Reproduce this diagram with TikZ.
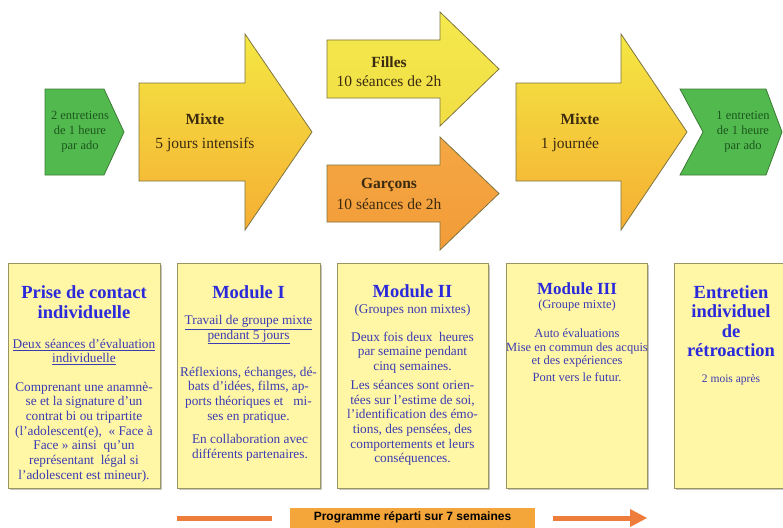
\documentclass[tikz,border=0pt]{standalone}
\usepackage{fontspec}
\setmainfont{Liberation Serif}
\newfontfamily\arialf{Liberation Sans}
\usetikzlibrary{shadows}
\definecolor{gfill}{HTML}{52B94F}
\definecolor{gedge}{HTML}{3C7A34}
\definecolor{gtext}{HTML}{1C561C}
\definecolor{ayel}{HTML}{F4E843}
\definecolor{aorg}{HTML}{F5AE33}
\definecolor{fyel}{HTML}{F4E94E}
\definecolor{fyel2}{HTML}{F1DE44}
\definecolor{gorg}{HTML}{F4A744}
\definecolor{gorg2}{HTML}{F29C38}
\definecolor{aedge}{HTML}{7E7440}
\definecolor{cardfill}{HTML}{FFF6A6}
\definecolor{cardedge}{HTML}{9A9462}
\definecolor{titleblue}{HTML}{2A2ADB}
\definecolor{bodyblue}{HTML}{3B3BB2}
\definecolor{barorg}{HTML}{EE7C3A}
\definecolor{labelorg}{HTML}{F5A63B}
\definecolor{txtdark}{HTML}{3A2A10}
\tikzset{
  bigarrow/.style={draw=aedge, line width=0.8pt, top color=ayel, bottom color=aorg},
  girlarrow/.style={draw=aedge, line width=0.8pt, top color=fyel, bottom color=fyel2},
  boyarrow/.style={draw=aedge, line width=0.8pt, top color=gorg, bottom color=gorg2},
  greenshape/.style={draw=gedge, line width=0.8pt, fill=gfill},
  greentxt/.style={text=gtext, align=center, font=\fontsize{12.5}{15}\selectfont, inner sep=0pt},
  arrtitle/.style={text=txtdark, font=\fontsize{15.5}{17}\selectfont\bfseries, inner sep=0pt},
  arrsub/.style={text=txtdark, font=\fontsize{15.5}{17}\selectfont, inner sep=0pt},
  card/.style={draw=cardedge, line width=0.9pt, fill=cardfill,
    drop shadow={shadow xshift=1.5pt, shadow yshift=-1.5pt, opacity=0.45}},
  cardtitle/.style={text=titleblue, align=center, font=\fontsize{18.5}{19.5}\selectfont\bfseries, inner sep=0pt},
  cardsub/.style={text=bodyblue, align=center, font=\fontsize{13.3}{14.5}\selectfont, inner sep=0pt},
  cardbody/.style={text=bodyblue, align=center, font=\fontsize{13.3}{14.7}\selectfont, inner sep=0pt},
  cardsmall/.style={text=bodyblue, align=center, font=\fontsize{12.5}{13}\selectfont, inner sep=0pt},
  bar/.style={draw=barorg, line width=5pt},
}
\begin{document}
\begin{tikzpicture}[x=1pt,y=-1pt]
\useasboundingbox (0,0) rectangle (783,527);
\fill[white] (0,0) rectangle (783,527);

% ---------- top row ----------
\path[greenshape] (45,89) -- (104,89) -- (124,132) -- (104,175) -- (45,175) -- cycle;
\node[greentxt] (g1) at (80,132) {2 entretiens\\de 1 heure\\par ado};

\path[bigarrow] (139,83) -- (245,83) -- (245,34) -- (312,132) -- (245,230) -- (245,181) -- (139,181) -- cycle;
\node[arrtitle] (m1t) at (205,119) {Mixte};
\node[arrsub] (m1s) at (205,145) {5 jours intensifs};

\path[girlarrow] (327,40) -- (440,40) -- (440,12) -- (499,69) -- (440,126) -- (440,98) -- (327,98) -- cycle;
\node[arrtitle] (ft) at (389,62) {Filles};
\node[arrsub] (fs) at (389,81) {10 séances de 2h};

\path[boyarrow] (327,165) -- (440,165) -- (440,137) -- (499,193.5) -- (440,250) -- (440,222) -- (327,222) -- cycle;
\node[arrtitle] (gt) at (389,185) {Garçons};
\node[arrsub] (gs) at (389,204) {10 séances de 2h};

\path[bigarrow] (516,83) -- (621,83) -- (621,34) -- (687,132) -- (621,230) -- (621,181) -- (516,181) -- cycle;
\node[arrtitle] (m2t) at (580,119) {Mixte};
\node[arrsub] (m2s) at (570,145) {1 journée};

\path[greenshape] (680,89) -- (766,89) -- (782,132) -- (766,175) -- (680,175) -- (703,132) -- cycle;
\node[greentxt] (g2) at (743,132) {1 entretien\\de 1 heure\\par ado};

% ---------- cards ----------
\path[card] (8,263) rectangle (160,488);
\path[card] (177,263) rectangle (320,488);
\path[card] (337,263) rectangle (488,488);
\path[card] (506,263) rectangle (647,488);
\path[card] (674,263) rectangle (795,488);

% card 1
\node[cardtitle] (c1t) at (84,302) {Prise de contact\\individuelle};
\node[cardsub] (c1u) at (84,352) {\underline{Deux séances d'évaluation}\\\underline{individuelle}};
\node[cardbody] (c1b) at (84,432) {Comprenant une anamnè-\\se et la signature d'un\\contrat bi ou tripartite\\(l'adolescent(e),~ « Face à\\Face » ainsi~ qu'un\\représentant~ légal si\\l'adolescent est mineur).};

% card 2
\node[cardtitle] (c2t) at (248.5,292) {Module I};
\node[cardsub] (c2u) at (248.5,330) {\underline{Travail de groupe mixte}\\\underline{pendant 5 jours}};
\node[cardbody] (c2b) at (248.5,395) {Réflexions, échanges, dé-\\bats d'idées, films, ap-\\ports théoriques et~~ mi-\\ses en pratique.};
\node[cardbody] (c2c) at (250,447.5) {En collaboration avec\\différents partenaires.};

% card 3
\node[cardtitle] (c3t) at (412.5,291) {Module II};
\node[cardsub] (c3s) at (412.5,310) {(Groupes non mixtes)};
\node[cardbody] (c3b) at (412.5,352.5) {Deux fois deux~ heures\\par semaine pendant\\cinq semaines.};
\node[cardbody] (c3c) at (412.5,423) {Les séances sont orien-\\tées sur l'estime de soi,\\l'identification des émo-\\tions, des pensées, des\\comportements et leurs\\conséquences.};

% card 4
\node[cardtitle, font=\fontsize{17}{19}\selectfont\bfseries] (c4t) at (577,289) {Module III};
\node[cardsmall] (c4s) at (577,305) {(Groupe mixte)};
\node[cardsmall] (c4a) at (577,333) {Auto évaluations};
\node[cardsmall] (c4b) at (577,354.5) {Mise en commun des acquis\\et des expériences};
\node[cardsmall] (c4c) at (577,377) {Pont vers le futur.};

% card 5
\node[cardtitle] (c5t) at (731,321) {Entretien\\individuel\\de\\rétroaction};
\node[cardsmall, font=\fontsize{11.5}{13}\selectfont] (c5s) at (731,380) {2 mois après};

% ---------- bottom timeline ----------
\node[fill=labelorg, minimum width=245, minimum height=20, inner sep=0pt,
      font=\arialf\bfseries\fontsize{12}{13}\selectfont] (lab) at (412.5,517.5) {Programme réparti sur 7 semaines};
\coordinate (l1) at (177,518);
\coordinate (r2) at (630,518);
\draw[bar] (l1) -- ([xshift=-18pt]lab.west |- l1);
\draw[bar] ([xshift=18pt]lab.east |- r2) -- (r2);
\fill[barorg] (630,509) -- (647,518) -- (630,527) -- cycle;
\end{tikzpicture}
\end{document}
